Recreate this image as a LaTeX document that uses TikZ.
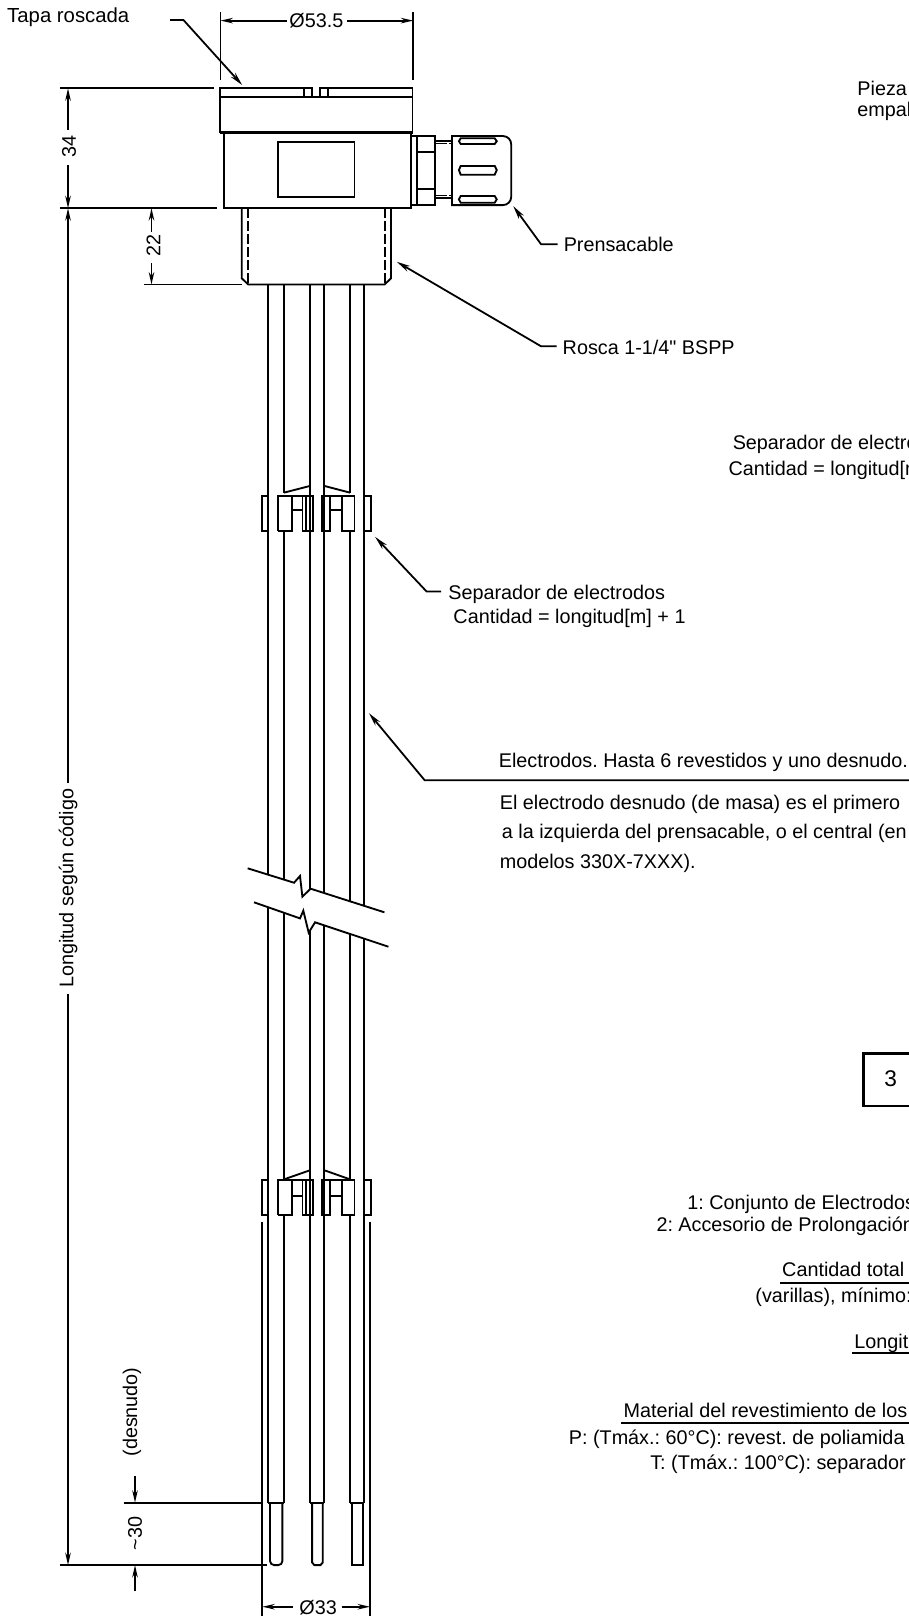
\documentclass[tikz,border=0pt]{standalone}
\usepackage{fontspec}
\setmainfont{Liberation Sans}[Ligatures=TeXOff]
\usetikzlibrary{arrows.meta}
\frenchspacing
\tikzset{
  x=0.75pt,y=-0.75pt,
  ln/.style={line width=1.35pt,line join=miter},
  thick ln/.style={line width=1.8pt},
  dim/.style={line width=1.3pt,-{Stealth[length=9pt,width=4pt]}},
  leader/.style={line width=1.3pt,-{Stealth[length=10pt,width=4.4pt]}},
  lab/.style={inner sep=0pt,outer sep=0pt,anchor=base west,yshift=-0.75pt,font=\fontsize{14.4}{16}\selectfont},
  rlab/.style={inner sep=0pt,outer sep=0pt,rotate=90,font=\fontsize{14.4}{16}\selectfont},
  mlab/.style={inner sep=0pt,outer sep=0pt,font=\fontsize{14.4}{16}\selectfont},
}
\newcommand{\sepblock}[3]{%
  \begin{scope}[shift={(0,#1)},ln]
    \draw (254,0) rectangle (260.4,33.7);
    \draw (353.5,0) rectangle (359.7,33.7);
    \draw (269.8,33.7) -- (269.8,0) -- (303.4,0) -- (303.4,33.7) -- (293.5,33.7) -- (293.5,0);
    \draw (269.8,33.7) -- (283.4,33.7) -- (283.4,0);
    \draw (283.4,#3) -- (293.5,#3);
    \draw (296.9,0) -- (296.9,33.7);
    \draw (344,33.7) -- (344,0) -- (312.3,0) -- (312.3,33.7) -- (320.6,33.7) -- (320.6,0);
    \draw (344,33.7) -- (332,33.7) -- (332,0);
    \draw (320.6,#3) -- (332,#3);
    \draw (275.6,#2) -- (300.8,-9.8);
    \draw (314.7,-9.8) -- (339.6,#2);
  \end{scope}}
\begin{document}
\begin{tikzpicture}
\useasboundingbox (0,0) rectangle (882,1568);
\clip (0,0) rectangle (882,1568);
% electrodes
\begin{scope}[ln]
  \draw (260.4,276) -- (260.4,1458);
  \draw (353.5,276) -- (353.5,1458);
  \draw (300.8,276) -- (300.8,1458);
  \draw (314.7,276) -- (314.7,1458);
  \draw (275.6,276) -- (275.6,478) (275.6,515) -- (275.6,1144.3) (275.6,1178.6) -- (275.6,1458);
  \draw (339.6,276) -- (339.6,478) (339.6,515) -- (339.6,1144.3) (339.6,1178.6) -- (339.6,1458);
  \draw (260.4,1458) -- (275.6,1458) (300.8,1458) -- (314.7,1458) (339.6,1458) -- (353.5,1458);
  % bare ends
  \draw (262,1458) -- (262,1514.6) to[out=-90,in=180] (266,1518.6) -- (270,1518.6) to[out=0,in=-90] (274,1514.6) -- (274,1458);
  \draw (302.8,1458) -- (302.8,1516) -- (305,1518.6) -- (311,1518.6) -- (313.2,1516) -- (313.2,1458);
  \draw (341.5,1458) -- (341.5,1518.6) -- (352.2,1518.6) -- (352.2,1458);
\end{scope}
\sepblock{481.3}{-3.3}{13.5}
\sepblock{1145.3}{-1}{15.2}
% break
\fill[white] (240.3,842.5) -- (285.3,856.5) -- (291.1,850) -- (293.4,870) -- (301.4,862.3) -- (373,885.2) -- (376.9,918.6) -- (305.7,894.9) -- (299.5,904.9) -- (294.3,883.6) -- (291.1,891.1) -- (246.5,875.5) -- cycle;
\draw[ln] (240.3,842.5) -- (285.3,856.5) -- (291.1,850) -- (293.4,870) -- (301.4,862.3) -- (373,885.2);
\draw[ln] (246.5,875.5) -- (291.1,891.1) -- (294.3,883.6) -- (299.5,904.9) -- (305.7,894.9) -- (376.9,918.6);
% housing
\begin{scope}[ln]
  \draw (213.5,85.7) rectangle (400.3,93.8);
  \fill[white] (303.4,83) rectangle (309.7,87.2);
  \draw (295,85.7) -- (295,93.8) (302.6,85.7) -- (302.6,93.8) (310.5,85.7) -- (310.5,93.8) (318.6,85.7) -- (318.6,93.8);
  \draw (213.5,93.8) rectangle (400.3,128.4);
  \draw (217.6,128.4) rectangle (398.8,202);
  \draw (269.8,137.8) rectangle (343.9,190.8);
  \draw[thick ln] (213.5,128.4) -- (400.3,128.4) (217.6,202) -- (398.8,202);
  % thread
  \draw (234.5,202) -- (234.5,270) -- (240.9,276) -- (373.2,276) -- (379.4,270) -- (379.4,202);
  \draw[dash pattern=on 7pt off 2.5pt] (240.9,202) -- (240.9,276);
  \draw[dash pattern=on 7pt off 2.5pt] (373.6,202) -- (373.6,276);
  % gland
  \draw (398.8,132) rectangle (421.7,199);
  \draw (404.6,132) -- (404.6,199);
  \draw (404.6,147.2) -- (421.7,147.2) (404.6,183) -- (421.7,183);
  \draw (421.7,137) -- (438.5,137) (421.7,192.5) -- (438.5,192.5);
  \draw[line width=0.8pt,dash pattern=on 9pt off 1.5pt] (421.7,139.6) -- (438.5,139.6);
  \draw[line width=0.8pt,dash pattern=on 9pt off 1.5pt] (421.7,190) -- (438.5,190);
  \draw (438.5,132) -- (488,132) to[out=0,in=90] (496,140) -- (496,191) to[out=-90,in=0] (488,199) -- (438.5,199) -- cycle;
  \draw (447,134.2) -- (480,134.2) -- (482,137) -- (480,139.7) -- (447,139.7) -- (445.3,137) -- cycle;
  \draw (447,161) -- (480,161) -- (482,165) -- (480,169.5) -- (447,169.5) -- (445.3,165) -- cycle;
  \draw (447,190.2) -- (480,190.2) -- (482,193.4) -- (480,196.7) -- (447,196.7) -- (445.3,193.4) -- cycle;
\end{scope}
% extension lines
\begin{scope}[ln]
  \draw (214,12) -- (214,78) (401,12) -- (401,78);
  \draw (58,85.7) -- (208,85.7);
  \draw[thick ln] (58,202) -- (211,202);
  \draw (140,276) -- (235,276);
  \draw (120,1458) -- (254.5,1458);
  \draw[thick ln] (58,1518.6) -- (258.7,1518.6);
  \draw (254.5,1185.4) -- (254.5,1568) (359,1185.4) -- (359,1568);
  \draw (757,1245) -- (882,1245) (827,1313) -- (882,1313);
  \draw (603,1381) -- (882,1381);
\end{scope}
% dimension texts
\node[mlab] (d535) at (307,20.5) {Ø53.5};
\node[rlab] (d34) at (67,142) {34};
\node[rlab] (d22) at (149,238) {22};
\node[rlab] (dlong) at (66,862) {Longitud según código};
\node[rlab] (d30) at (131,1488) {\textasciitilde30};
\node[rlab] (ddes) at (128,1370) {(desnudo)};
\node[mlab] (d33) at (308.7,1559.5) {Ø33};
% dimension arrows
\coordinate (a1) at (214,20); \coordinate (a2) at (401,20);
\draw[dim] (278,20) -- (a1);
\draw[dim] (337,20) -- (a2);
\coordinate (b1) at (66,85.7); \coordinate (b2) at (66,202);
\draw[dim] (66,126) -- (b1);
\draw[dim] (66,160) -- (b2);
\coordinate (c1) at (147,202); \coordinate (c2) at (147,276);
\draw[dim] (147,224.8) -- (c1);
\draw[dim] (147,255.5) -- (c2);
\coordinate (l1) at (66,202); \coordinate (l2) at (66,1518.6);
\draw[dim] (66,760) -- (l1);
\draw[dim] (66,964) -- (l2);
\coordinate (e1) at (131,1458); \coordinate (e2) at (131,1518.6);
\draw[dim] (131,1432) -- (e1);
\draw[dim] (131,1544) -- (e2);
\coordinate (f1) at (254.5,1559); \coordinate (f2) at (359,1559);
\draw[dim] (284,1559) -- (f1);
\draw[dim] (331.5,1559) -- (f2);
% leader tips
\coordinate (t1) at (235,82.5);
\coordinate (t2) at (498,200);
\coordinate (t3) at (385,254);
\coordinate (t4) at (364,521);
\coordinate (t5) at (358,692);
\draw[leader] (165,19.4) -- (178,19.4) -- (t1);
\draw[leader] (541,237) -- (525,237) -- (t2);
\draw[leader] (540,336) -- (525,336) -- (t3);
\draw[leader] (428,574) -- (414,574) -- (t4);
\draw[leader] (882,757) -- (412,757) -- (t5);
% labels
\node[lab,font=\fontsize{14.8}{16}\selectfont] (tapa) at (7,21) {Tapa roscada};
\node[lab] (prens) at (547,243.5) {Prensacable};
\node[lab] (rosca) at (546,342.5) {Rosca 1-1/4" BSPP};
\node[lab] (sep1) at (435,580.5) {Separador de electrodos};
\node[lab] (sep2) at (440,604) {Cantidad = longitud[m] + 1};
\node[lab] (el1) at (484,743.5) {Electrodos. Hasta 6 revestidos y uno desnudo.};
\node[lab] (el2) at (485,784) {El electrodo desnudo (de masa) es el primero};
\node[lab] (el3) at (487,813) {a la izquierda del prensacable, o el central (en};
\node[lab] (el4) at (485,842) {modelos 330X-7XXX).};
\node[lab] (pz1) at (832,92) {Pieza};
\node[lab] (pz2) at (832,112) {empal};
\node[lab] (rs1) at (711,435.5) {Separador de electro};
\node[lab] (rs2) at (707,460) {Cantidad = longitud[m};
\node[lab,font=\fontsize{16.5}{18}\selectfont] (t3box) at (858,1053.5) {3};
\draw[line width=1.8pt] (882,1022) -- (838,1022) -- (838,1073) -- (882,1073);
\node[lab] (c1a) at (667,1173) {1: Conjunto de Electrodos};
\node[lab] (c2a) at (637,1194) {2: Accesorio de Prolongación};
\node[lab] (c3a) at (759,1238) {Cantidad total d};
\node[lab] (c4a) at (733,1263) {(varillas), mínimo:};
\node[lab] (c5a) at (829,1307) {Longit};
\node[lab] (c6a) at (605,1374) {Material del revestimiento de los};
\node[lab] (c7a) at (552,1401) {P: (Tmáx.: 60°C): revest. de poliamida};
\node[lab] (c8a) at (631,1425) {T: (Tmáx.: 100°C): separador};
\end{tikzpicture}
\end{document}
